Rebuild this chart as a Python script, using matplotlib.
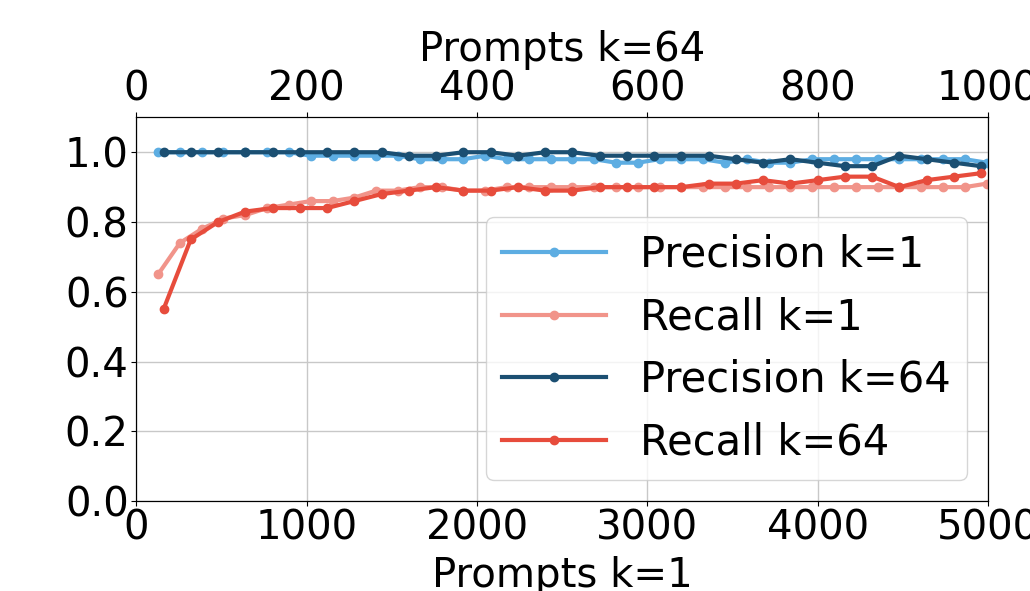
import matplotlib
matplotlib.use("Agg")
import matplotlib.pyplot as plt

# k=1 runs: prompts 128, 256, ... 4992
prompts_k1 = [128 * j for j in range(1, 40)]
precision_k1 = [1.00, 1.00, 1.00, 1.00, 1.00, 1.00, 1.00, 0.99, 0.99, 0.99,
                0.99, 0.99, 0.98, 0.98, 0.98, 0.99, 0.98, 0.98, 0.98, 0.98,
                0.98, 0.97, 0.97, 0.98, 0.98, 0.98, 0.97, 0.98, 0.97, 0.97,
                0.98, 0.98, 0.98, 0.98, 0.98, 0.98, 0.98, 0.98, 0.97]
recall_k1 = [0.65, 0.74, 0.78, 0.81, 0.82, 0.84, 0.85, 0.86, 0.86, 0.87,
             0.89, 0.89, 0.90, 0.90, 0.89, 0.89, 0.90, 0.90, 0.90, 0.90,
             0.90, 0.90, 0.90, 0.90, 0.90, 0.90, 0.90, 0.90, 0.90, 0.90,
             0.90, 0.90, 0.90, 0.90, 0.90, 0.90, 0.90, 0.90, 0.91]

# k=64 runs: prompts 32, 64, ... 992
prompts_k64 = [32 * i for i in range(1, 32)]
precision_k64 = [1.00, 1.00, 1.00, 1.00, 1.00, 1.00, 1.00, 1.00, 1.00, 0.99,
                 0.99, 1.00, 1.00, 0.99, 1.00, 1.00, 0.99, 0.99, 0.99, 0.99,
                 0.99, 0.98, 0.97, 0.98, 0.97, 0.96, 0.96, 0.99, 0.98, 0.97,
                 0.96]
recall_k64 = [0.55, 0.75, 0.80, 0.83, 0.84, 0.84, 0.84, 0.86, 0.88, 0.89,
              0.90, 0.89, 0.89, 0.90, 0.89, 0.89, 0.90, 0.90, 0.90, 0.90,
              0.91, 0.91, 0.92, 0.91, 0.92, 0.93, 0.93, 0.90, 0.92, 0.93,
              0.94]

light_blue = "#5DADE2"
light_red = "#F1948A"
dark_blue = "#1B4F72"
red = "#E74C3C"

fs = 29
plt.rcParams["font.size"] = fs

fig = plt.figure(figsize=(10.3, 5.91), dpi=100)
ax = fig.add_axes([0.1323, 0.1518, 0.9592 - 0.1323, 0.8015 - 0.1518])

l1, = ax.plot(prompts_k1, precision_k1, "-o", color=light_blue, lw=3, ms=6,
              label="Precision k=1")
l2, = ax.plot(prompts_k1, recall_k1, "-o", color=light_red, lw=3, ms=6,
              label="Recall k=1")
ax.set_xlim(0, 5000)
ax.set_ylim(0, 1.1)
ax.set_xticks([0, 1000, 2000, 3000, 4000, 5000])
ax.set_yticks([0.0, 0.2, 0.4, 0.6, 0.8, 1.0])
ax.set_xlabel("Prompts k=1", labelpad=5)
ax.grid(True, color="#c8c8c8", lw=1)
ax.tick_params(labelsize=fs, pad=2)

ax2 = ax.twiny()
l3, = ax2.plot(prompts_k64, precision_k64, "-o", color=dark_blue, lw=3, ms=6,
               label="Precision k=64")
l4, = ax2.plot(prompts_k64, recall_k64, "-o", color=red, lw=3, ms=6,
               label="Recall k=64")
ax2.set_xlim(0, 1000)
ax2.set_xticks([0, 200, 400, 600, 800, 1000])
ax2.set_xlabel("Prompts k=64", labelpad=6)
ax2.tick_params(labelsize=fs, pad=2)

ax2.legend(handles=[l1, l2, l3, l4], loc="lower right", fontsize=30,
           handlelength=2.5, framealpha=0.8)

fig.savefig("out.png", dpi=100)
